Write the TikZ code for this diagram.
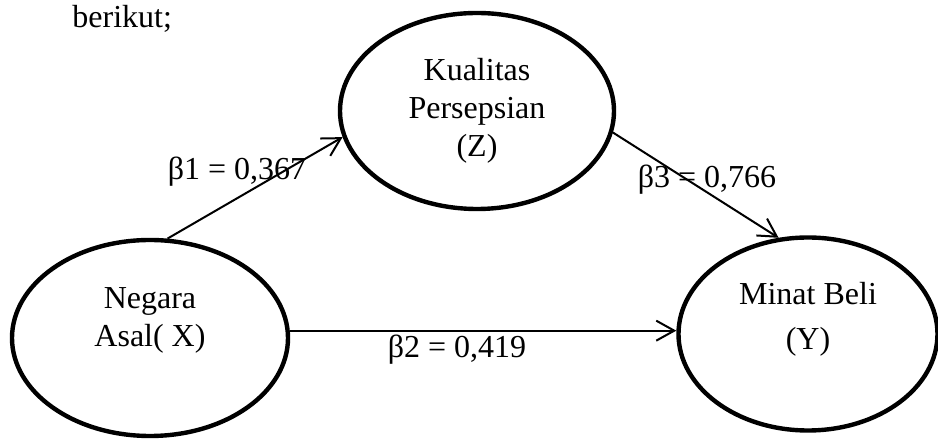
\documentclass[tikz,border=0pt]{standalone}
\usepackage{fontspec}
\setmainfont{Liberation Serif}
\usetikzlibrary{shapes.geometric,arrows.meta}
\tikzset{
  var/.style={ellipse, draw, line width=2.2pt, inner sep=0pt},
  vartext/.style={align=center, font=\fontsize{16}{19}\selectfont},
  coef/.style={font=\fontsize{16}{19}\selectfont, inner sep=1pt},
  effect/.style={line width=1pt, -{Straight Barb[length=9pt,width=10pt,line width=1pt]}},
}
\begin{document}
\begin{tikzpicture}[x=0.5pt,y=-0.5pt]
    \useasboundingbox (0,0) rectangle (938,442);
    \node[coef, anchor=base west] (intro) at (70,28) {berikut;};

    \node[var, minimum width=137pt, minimum height=98pt] (Z) at (477,111) {};
    \node[vartext] (Ztext) at (Z.center) {Kualitas\\Persepsian\\(Z)};
    \node[var, minimum width=138pt, minimum height=98pt] (X) at (150,338) {};
    \node[vartext] (Xtext) at ([yshift=9pt]X.center) {Negara\\Asal( X)};
    \node[var, minimum width=129.5pt, minimum height=96.5pt] (Y) at (808,334) {};
    \node[vartext] (Ytext) at ([yshift=7.5pt]Y.center) {Minat Beli\\[3.5pt](Y)};

    \draw[effect] (X.80) -- (Z.191);
    \draw[effect] (Z.-9) -- (Y.107);
    \draw[effect] (X.3) -- (X.3 -| Y.west);

    \node[coef] (b1) at (237,172) {β1 = 0,367};
    \node[coef] (b2) at (457,350) {β2 = 0,419};
    \node[coef] (b3) at (707,180) {β3 = 0,766};
\end{tikzpicture}
\end{document}
